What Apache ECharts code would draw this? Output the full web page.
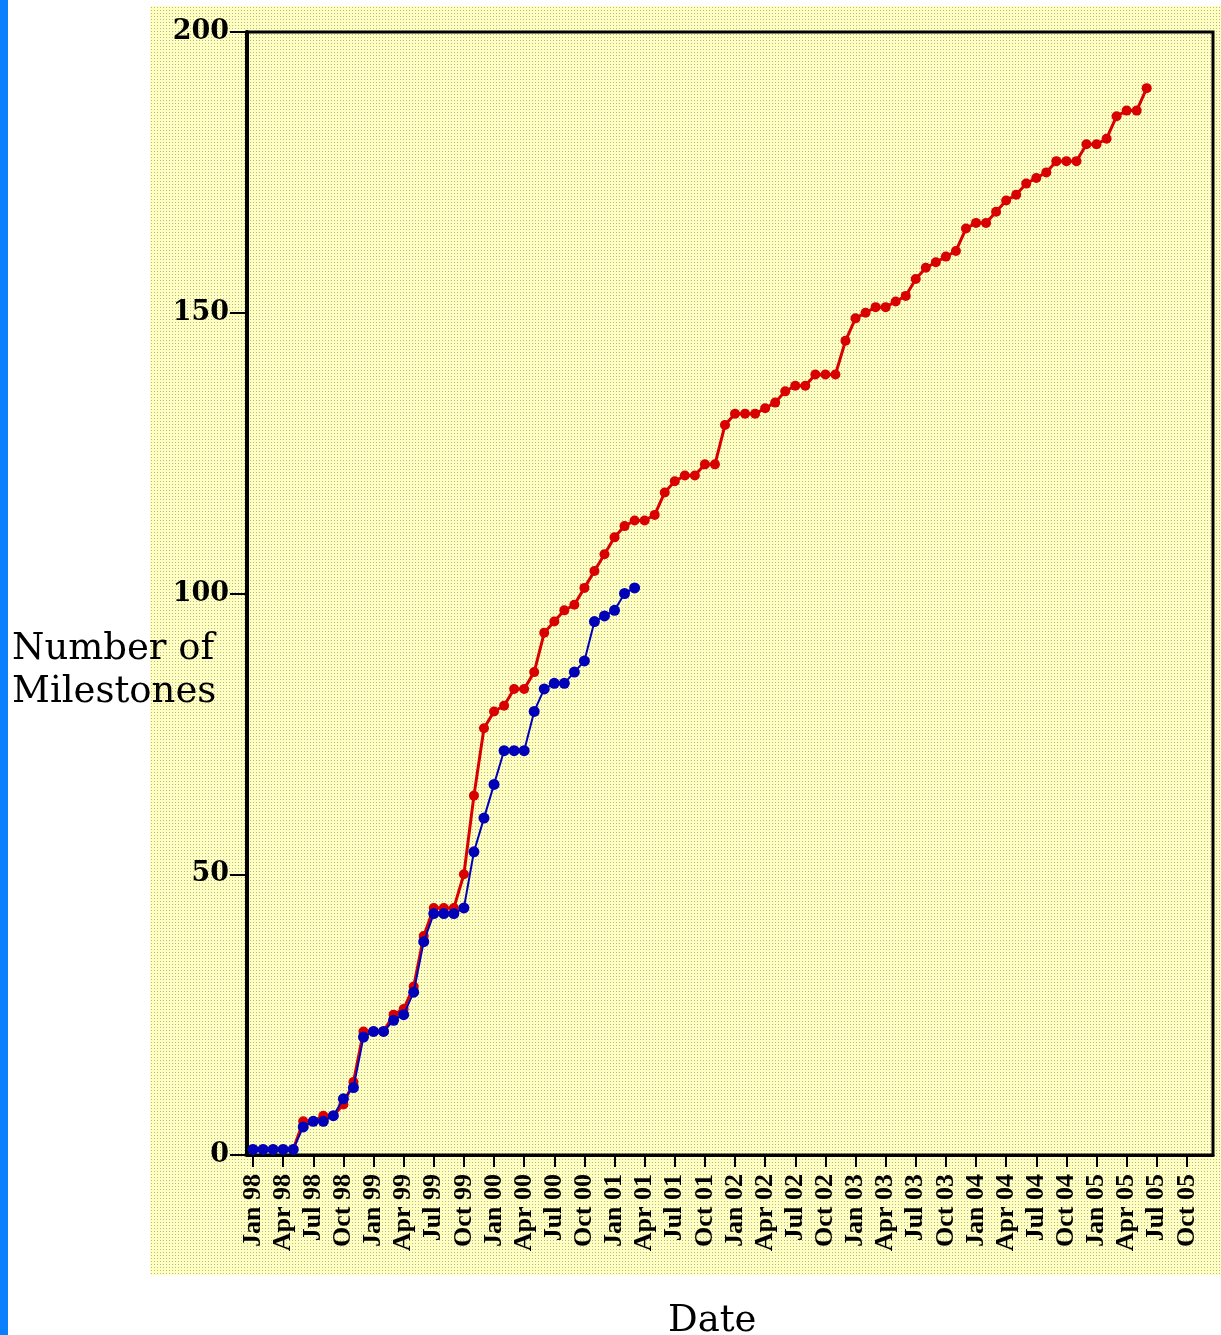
<!DOCTYPE html>
<html>
<head>
<meta charset="utf-8">
<script src="https://cdn.jsdelivr.net/npm/echarts@6/dist/echarts.min.js"></script>
<style>
  html, body { margin: 0; padding: 0; background: #ffffff; width: 1221px; height: 1335px; overflow: hidden; }
  #strip { position: absolute; left: 0; top: 0; width: 8px; height: 1335px; background: #0a80ff; }
  #panel { position: absolute; left: 150px; top: 6px; width: 1071px; height: 1269px;
           background-color: #ffffc0;
           background-image: radial-gradient(circle, #b8b69a 0.7px, rgba(0,0,0,0) 1px);
           background-size: 3px 3px; }
  #chart { position: absolute; left: 0; top: 0; width: 1221px; height: 1335px; }
</style>
</head>
<body>
<div id="strip"></div>
<div id="panel"></div>
<div id="chart"></div>
<script>
// Quarterly tick labels (one every 3 months starting Jan 98)
const tickLabels = [
  'Jan 98','Apr 98','Jul 98','Oct 98',
  'Jan 99','Apr 99','Jul 99','Oct 99',
  'Jan 00','Apr 00','Jul 00','Oct 00',
  'Jan 01','Apr 01','Jul 01','Oct 01',
  'Jan 02','Apr 02','Jul 02','Oct 02',
  'Jan 03','Apr 03','Jul 03','Oct 03',
  'Jan 04','Apr 04','Jul 04','Oct 04',
  'Jan 05','Apr 05','Jul 05','Oct 05'
];

// Monthly cumulative milestones, starting Jan 98 (month index 0)
const redValues = [
  1, 1, 1, 1, 1, 6, 6, 7, 7, 9,
  13, 22, 22, 22, 25, 26, 30, 39, 44, 44,
  44, 50, 64, 76, 79, 80, 83, 83, 86, 93,
  95, 97, 98, 101, 104, 107, 110, 112, 113, 113,
  114, 118, 120, 121, 121, 123, 123, 130, 132, 132,
  132, 133, 134, 136, 137, 137, 139, 139, 139, 145,
  149, 150, 151, 151, 152, 153, 156, 158, 159, 160,
  161, 165, 166, 166, 168, 170, 171, 173, 174, 175,
  177, 177, 177, 180, 180, 181, 185, 186, 186, 190
];

const blueValues = [
  1, 1, 1, 1, 1, 5, 6, 6, 7, 10,
  12, 21, 22, 22, 24, 25, 29, 38, 43, 43,
  43, 44, 54, 60, 66, 72, 72, 72, 79, 83,
  84, 84, 86, 88, 95, 96, 97, 100, 101
];

const yAxisTitle = 'Number of\nMilestones';
const xAxisTitle = 'Date';

const tickPositions = tickLabels.map((_, i) => i * 3);

const chart = echarts.init(document.getElementById('chart'), null, { renderer: 'canvas' });

const titleFont = { fontFamily: 'DejaVu Serif', fontSize: 37, fontWeight: 'normal', color: '#000', lineHeight: 43 };

const option = {
  backgroundColor: 'transparent',
  animation: false,
  title: [
    { text: yAxisTitle, left: 12, top: 628, padding: 0, textStyle: titleFont },
    { text: xAxisTitle, left: 668, top: 1300, padding: 0, textStyle: titleFont }
  ],
  grid: {
    left: 247, right: 8, top: 32, bottom: 180,
    containLabel: false,
    outerBoundsMode: 'none',
    show: true, borderColor: '#000', borderWidth: 3, backgroundColor: 'transparent'
  },
  xAxis: {
    type: 'value',
    min: -0.6,
    max: 95.6,
    axisLine: { show: true, onZero: false, lineStyle: { color: '#000', width: 3 } },
    axisTick: { show: true, customValues: tickPositions, length: 12, lineStyle: { color: '#000', width: 2 } },
    axisLabel: {
      customValues: tickPositions,
      rotate: 90,
      margin: 19,
      fontFamily: 'Liberation Serif',
      fontWeight: 'bold',
      fontSize: 26,
      color: '#000',
      formatter: function (v) { return tickLabels[Math.round(v / 3)] || ''; }
    },
    splitLine: { show: false }
  },
  yAxis: {
    type: 'value',
    min: 0,
    max: 200,
    interval: 50,
    axisLine: { show: true, onZero: false, lineStyle: { color: '#000', width: 4 } },
    axisTick: { show: true, length: 17, lineStyle: { color: '#000', width: 2 } },
    axisLabel: {
      margin: 18,
      fontFamily: 'DejaVu Serif',
      fontWeight: 'bold',
      fontSize: 27,
      color: '#000'
    },
    splitLine: { show: false }
  },
  series: [
    {
      name: 'Planned',
      type: 'line',
      data: redValues.map((v, i) => [i, v]),
      symbol: 'circle',
      symbolSize: 10,
      itemStyle: { color: '#d80000' },
      lineStyle: { color: '#d80000', width: 3 },
      z: 2
    },
    {
      name: 'Actual',
      type: 'line',
      data: blueValues.map((v, i) => [i, v]),
      symbol: 'circle',
      symbolSize: 11,
      itemStyle: { color: '#0000b8' },
      lineStyle: { color: '#0000b8', width: 2 },
      z: 3
    }
  ]
};

chart.setOption(option);
</script>
</body>
</html>
